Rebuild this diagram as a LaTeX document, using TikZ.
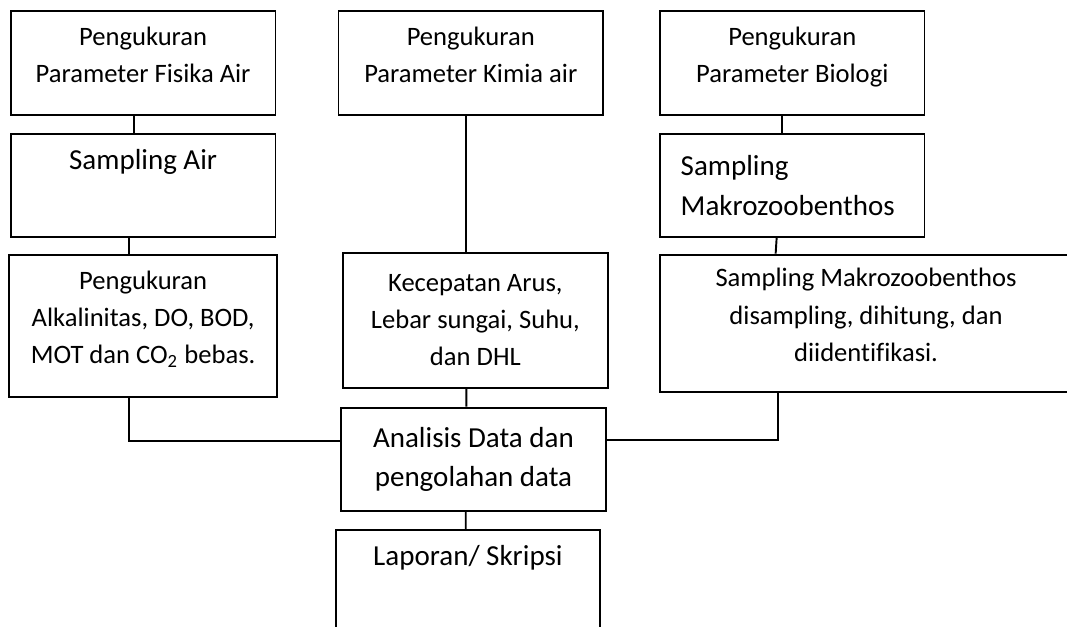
\documentclass[tikz,border=0pt]{standalone}
\usepackage{fontspec}
\setmainfont{Carlito}[Ligatures=CommonOff]
\usetikzlibrary{positioning}

\begin{document}
\begin{tikzpicture}
        [every node/.style={draw, rectangle, align=center, line width=0.8pt, font=\fontsize{11}{15.4}\selectfont},
         bigfont/.style={font=\fontsize{12}{16.3}\selectfont},
         raised/.style={text depth=7pt},
         line width=0.8pt]
        \useasboundingbox (0,0) rectangle (15.514,-9.102);
        % fisika
        \node (fisika) [raised, minimum width=3.850cm, minimum height=1.508cm] at (2.081,-0.918) {Pengukuran\\ Parameter Fisika Air};
        \node (sampair) [bigfont, minimum width=3.850cm, minimum height=1.506cm, below=0.243cm of fisika] {Sampling Air\\ \strut};
        \node (alkal) [raised, minimum width=3.889cm, minimum height=2.065cm, below=0.224cm of sampair] {Pengukuran\\ Alkalinitas, DO, BOD,\\ MOT dan CO\textsubscript{2} bebas.};
        % kimia
        \node (kimia) [raised, minimum width=3.846cm, minimum height=1.508cm] at (6.845,-0.918) {Pengukuran\\ Parameter Kimia air};
        \node (arus) [minimum width=3.849cm, minimum height=1.963cm, below=1.973cm of kimia, xshift=0.067cm] {Kecepatan Arus,\\ Lebar sungai, Suhu,\\ dan DHL};
        \node (analisis) [bigfont, minimum width=3.855cm, minimum height=1.502cm, below=0.262cm of arus, xshift=-0.028cm] {Analisis Data dan\\ pengolahan data};
        \node (laporan) [bigfont, minimum width=3.846cm, text height=0.4cm, text depth=2cm, below=0.247cm of analisis, xshift=-0.08cm] {Laporan/ Skripsi};
        % biologi
        \node (biologi) [raised, minimum width=3.844cm, minimum height=1.508cm] at (11.520,-0.918) {Pengukuran\\ Parameter Biologi};
        \node (sampmakro) [bigfont, align=left, text width=3.245cm, minimum width=3.844cm, minimum height=1.506cm, below=0.243cm of biologi] {Sampling\\ Makrozoobenthos};
        \node (makro) [raised, minimum width=5.989cm, minimum height=2.001cm, below=0.224cm of sampmakro.south west, anchor=north west] {Sampling Makrozoobenthos\\ disampling, dihitung, dan\\ diidentifikasi.};
        \draw ([xshift=-0.128cm]fisika.south) -- ([xshift=-0.128cm]sampair.north);
        \draw ([xshift=-0.208cm]sampair.south) -- ([xshift=-0.208cm]alkal.north);
        \draw ([xshift=-0.065cm]kimia.south) -- ([xshift=-0.132cm]arus.north);
        \draw ([xshift=-0.132cm]arus.south) -- ([xshift=-0.103cm]analisis.north);
        \draw ([xshift=-0.112cm]analisis.south) -- ([xshift=-0.032cm]laporan.north);
        \draw ([xshift=-0.144cm]biologi.south) -- ([xshift=-0.144cm]sampmakro.north);
        \draw ([xshift=-0.228cm]sampmakro.south) -- ([xshift=1.694cm]makro.north west);
        % garis ke analisis data
        \draw ([xshift=1.733cm]makro.south west) |- ([yshift=0.286cm]analisis.east);
        \draw ([xshift=-0.208cm]alkal.south) |- ([yshift=0.271cm]analisis.west);
\end{tikzpicture}
\end{document}
